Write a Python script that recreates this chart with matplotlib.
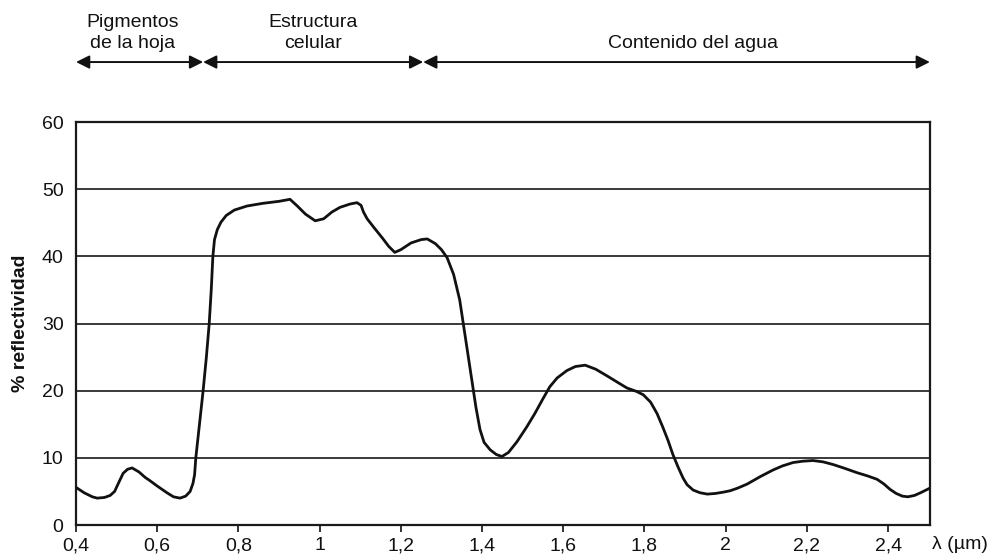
import matplotlib
matplotlib.use("Agg")
import matplotlib.pyplot as plt
import numpy as np

plt.rcParams['font.family'] = ['Liberation Sans', 'DejaVu Sans']

# wavelength (um) and reflectance (%)
wl = [0.400, 0.420, 0.440, 0.452, 0.470, 0.484, 0.495, 0.505, 0.516, 0.527,
      0.538, 0.555, 0.570, 0.582, 0.600, 0.624, 0.640, 0.656, 0.670, 0.681,
      0.688, 0.692, 0.695, 0.704, 0.713, 0.721, 0.728, 0.733, 0.737, 0.741,
      0.748, 0.757, 0.770, 0.790, 0.821, 0.860, 0.900, 0.927, 0.945, 0.965,
      0.989, 1.010, 1.030, 1.050, 1.075, 1.092, 1.102, 1.108, 1.117, 1.135,
      1.155, 1.170, 1.185, 1.200, 1.225, 1.250, 1.265, 1.285, 1.300, 1.314,
      1.330, 1.345, 1.355, 1.365, 1.375, 1.385, 1.395, 1.405, 1.420, 1.435,
      1.449, 1.465, 1.486, 1.510, 1.530, 1.550, 1.567, 1.585, 1.609, 1.630,
      1.654, 1.680, 1.708, 1.735, 1.757, 1.780, 1.797, 1.815, 1.831, 1.845,
      1.858, 1.870, 1.883, 1.895, 1.905, 1.920, 1.937, 1.955, 1.975, 1.995,
      2.011, 2.030, 2.053, 2.085, 2.117, 2.140, 2.166, 2.190, 2.215, 2.240,
      2.265, 2.295, 2.323, 2.350, 2.373, 2.390, 2.405, 2.420, 2.435, 2.449,
      2.465, 2.480, 2.500]
refl = [5.6, 4.8, 4.2, 4.0, 4.1, 4.4, 5.0, 6.3, 7.7, 8.3,
        8.5, 7.9, 7.1, 6.6, 5.8, 4.8, 4.2, 4.0, 4.3, 5.0,
        6.2, 7.5, 10, 15, 20, 25, 30, 35, 40, 42.5,
        44, 45.1, 46.1, 46.9, 47.5, 47.9, 48.2, 48.5, 47.5, 46.3,
        45.3, 45.6, 46.6, 47.3, 47.8, 48.0, 47.6, 46.6, 45.6, 44.2,
        42.7, 41.5, 40.6, 41.0, 42.0, 42.5, 42.6, 41.9, 41.0, 39.8,
        37.3, 33.5, 29.5, 25.5, 21.5, 17.5, 14.2, 12.3, 11.2, 10.5,
        10.2, 10.8, 12.4, 14.6, 16.6, 18.8, 20.6, 21.9, 23.0, 23.6,
        23.8, 23.2, 22.2, 21.2, 20.4, 19.9, 19.4, 18.3, 16.6, 14.6,
        12.6, 10.5, 8.6, 7.0, 6.0, 5.2, 4.8, 4.6, 4.7, 4.9,
        5.1, 5.5, 6.1, 7.2, 8.2, 8.8, 9.3, 9.5, 9.6, 9.4,
        9.0, 8.4, 7.8, 7.3, 6.8, 6.1, 5.3, 4.7, 4.3, 4.2,
        4.4, 4.8, 5.4]

xticks = [0.4, 0.6, 0.8, 1.0, 1.2, 1.4, 1.6, 1.8, 2.0, 2.2, 2.4]
xlabels = ['0,4', '0,6', '0,8', '1', '1,2', '1,4', '1,6', '1,8', '2', '2,2', '2,4']
yticks = [0, 10, 20, 30, 40, 50, 60]

# spectral regions above the plot
regions = ['Pigmentos\nde la hoja', 'Estructura\ncelular', 'Contenido del agua']
bounds = [0.4, 0.713, 1.255, 2.503]
label_x = [0.540, 0.984, 1.92]

fig = plt.figure(figsize=(9.94, 5.6), dpi=100)
ax = fig.add_axes([0.0765, 0.0625, 0.859, 0.7195])

for y in yticks[1:-1]:
    ax.axhline(y, color='#2a2a2a', lw=1.3, zorder=1)
ax.plot(wl, refl, color='#111111', lw=2.0, zorder=3, solid_joinstyle='round')

ax.set_xlim(0.4, 2.503)
ax.set_ylim(0, 60)
ax.set_xticks(xticks)
ax.set_xticklabels(xlabels)
ax.set_yticks(yticks)
ax.tick_params(axis='x', length=5, width=1.2, pad=4, labelsize=14, colors='#111111')
ax.tick_params(axis='y', length=0, pad=9, labelsize=14, colors='#111111')
for s in ax.spines.values():
    s.set_linewidth(1.6)
    s.set_color('#1a1a1a')

fig.text(0.021, 0.423, '% reflectividad', rotation=90, ha='center', va='center',
         fontsize=14, fontweight='bold', color='#111111')
ax.text(1.035, -0.028, 'λ (µm)', transform=ax.transAxes, ha='center', va='top',
        fontsize=14, color='#111111')

tr = ax.get_xaxis_transform()
for i in range(len(regions)):
    ax.annotate('', xy=(bounds[i], 1.149), xytext=(bounds[i + 1], 1.149),
                xycoords=tr, textcoords=tr, annotation_clip=False,
                arrowprops=dict(arrowstyle='<|-|>', color='#111111', lw=1.4,
                                mutation_scale=20, shrinkA=0, shrinkB=0))
    ax.text(label_x[i], 1.175, regions[i], transform=tr, ha='center', va='bottom',
            fontsize=14, color='#111111', linespacing=1.3)

fig.savefig('out.png', dpi=100, facecolor='white')
